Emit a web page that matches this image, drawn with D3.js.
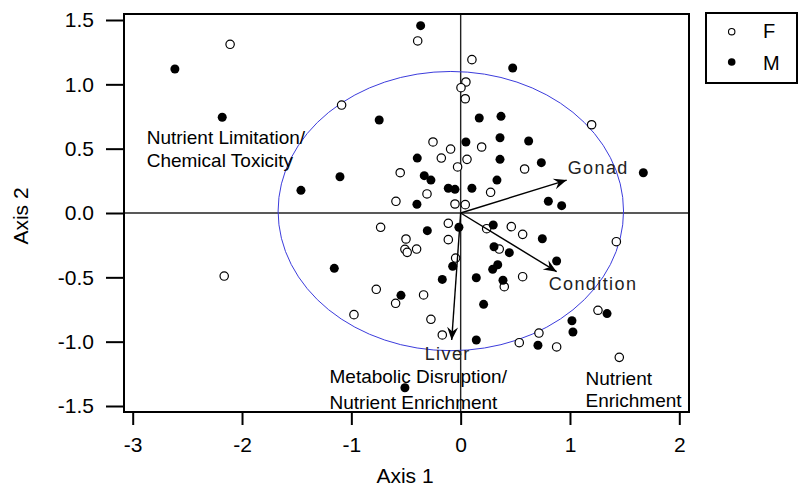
<!DOCTYPE html>
<html>
<head>
<meta charset="utf-8">
<script src="https://cdn.jsdelivr.net/npm/d3@7"></script>
<style>
  body { margin: 0; background: #fff; }
  svg { display: block; font-family: "Liberation Sans", Arial, sans-serif; }
</style>
</head>
<body>
<svg id="chart" width="799" height="489"></svg>
<script>
// ---- data ----
var femaleX = [-2.109, -1.089, -0.553, -0.592, -0.393, 0.103, 0.048, 0.003, 0.042, 1.198,
  -0.253, 0.192, -0.092, -0.177, 0.058, 0.585, -0.028, 0.274, -0.308, -0.052,
  0.042, -0.732, -0.500, -0.510, -0.489, -0.403, -2.163, -0.772, -0.595, -0.976,
  -0.113, -0.113, 0.238, 0.463, 0.567, 1.424, 0.353, -0.046, 0.399, 0.567,
  -0.339, -0.272, -0.168, 0.536, 0.716, 0.878, 1.256, 1.451];
var femaleY = [1.311, 0.839, 0.313, 0.091, 1.337, 1.192, 1.018, 0.974, 0.888, 0.686,
  0.552, 0.513, 0.497, 0.427, 0.417, 0.342, 0.358, 0.161, 0.148, 0.070,
  0.065, -0.111, -0.202, -0.282, -0.306, -0.280, -0.490, -0.593, -0.702, -0.790,
  -0.080, -0.207, -0.122, -0.106, -0.166, -0.223, -0.280, -0.350, -0.573, -0.495,
  -0.637, -0.826, -0.948, -1.008, -0.933, -1.041, -0.756, -1.122];

var maleX = [-2.614, -2.181, -0.745, -0.397, -1.104, -1.461, -0.400, -0.366, 0.476, 0.170,
  0.369, 0.360, 0.622, 0.048, 0.360, 0.738, 1.671, -0.333, -0.272, 0.332,
  -0.113, -0.052, 0.103, 0.802, 0.924, -1.156, -0.546, -0.510, -0.016, -0.305,
  0.298, 0.747, 0.305, 0.445, 0.878, -0.073, 0.339, 0.293, -0.168, 0.143,
  0.387, 0.210, 0.143, 0.707, 1.018, 1.027, 1.339];
var maleY = [1.119, 0.744, 0.723, 0.427, 0.282, 0.176, 0.068, 1.456, 1.127, 0.738,
  0.751, 0.585, 0.560, 0.552, 0.417, 0.391, 0.313, 0.290, 0.256, 0.256,
  0.192, 0.184, 0.192, 0.091, 0.057, -0.430, -0.640, -1.358, -0.111, -0.137,
  -0.093, -0.200, -0.262, -0.308, -0.373, -0.414, -0.402, -0.438, -0.516, -0.503,
  -0.523, -0.710, -0.987, -1.028, -0.837, -0.925, -0.782];

// biplot vectors
var vectorNames = ["Gonad", "Condition", "Liver"];
var vectorX = [0.970, 0.878, -0.082];
var vectorY = [0.256, -0.456, -0.987];

var xTicks = [-3, -2, -1, 0, 1, 2];
var yTicks = [-1.5, -1.0, -0.5, 0.0, 0.5, 1.0, 1.5];

// confidence ellipse (centre + radii in axis units)
var ellipseCentre = [-0.09, 0.015];
var ellipseRadii = [1.58, 1.085];

// ---- layout ----
var box = {left: 124, top: 14, right: 689, bottom: 412};

var svg = d3.select('#chart');

var x = d3.scaleLinear().domain([-3, 2]).range([132.7, 679.3]);
var y = d3.scaleLinear().domain([-1.5, 1.5]).range([406, 20]);

// zero lines
svg.append('line')
  .attr('x1', box.left).attr('x2', box.right)
  .attr('y1', y(0)).attr('y2', y(0))
  .attr('stroke', '#222').attr('stroke-width', 1.4);
svg.append('line')
  .attr('x1', x(0)).attr('x2', x(0))
  .attr('y1', box.top).attr('y2', box.bottom)
  .attr('stroke', '#222').attr('stroke-width', 1.4);

// ellipse
svg.append('ellipse')
  .attr('cx', x(ellipseCentre[0]))
  .attr('cy', y(ellipseCentre[1]))
  .attr('rx', x(ellipseRadii[0]) - x(0))
  .attr('ry', y(0) - y(ellipseRadii[1]))
  .attr('fill', 'none')
  .attr('stroke', '#3c3cdc')
  .attr('stroke-width', 1);

// points
var females = femaleX.map(function(v, i) { return {x: v, y: femaleY[i]}; });
var males = maleX.map(function(v, i) { return {x: v, y: maleY[i]}; });

svg.append('g').selectAll('circle')
  .data(females)
  .enter().append('circle')
  .attr('cx', function(d) { return x(d.x); })
  .attr('cy', function(d) { return y(d.y); })
  .attr('r', 4.2)
  .attr('fill', '#fff')
  .attr('stroke', '#000')
  .attr('stroke-width', 1.2);

svg.append('g').selectAll('circle')
  .data(males)
  .enter().append('circle')
  .attr('cx', function(d) { return x(d.x); })
  .attr('cy', function(d) { return y(d.y); })
  .attr('r', 4.5)
  .attr('fill', '#000');

// arrows
svg.append('defs').append('marker')
  .attr('id', 'head')
  .attr('markerUnits', 'userSpaceOnUse')
  .attr('markerWidth', 16).attr('markerHeight', 16)
  .attr('refX', 0).attr('refY', 0)
  .attr('viewBox', '-14 -8 16 16')
  .attr('orient', 'auto')
  .append('path')
  .attr('d', 'M0,0 L-13,-5.5 L-8.5,0 L-13,5.5 Z')
  .attr('fill', '#000');

var vectors = vectorNames.map(function(n, i) { return {name: n, x: vectorX[i], y: vectorY[i]}; });

svg.append('g').selectAll('line')
  .data(vectors)
  .enter().append('line')
  .attr('x1', x(0)).attr('y1', y(0))
  .attr('x2', function(d) { return x(d.x); })
  .attr('y2', function(d) { return y(d.y); })
  .attr('stroke', '#000')
  .attr('stroke-width', 1.4)
  .attr('marker-end', 'url(#head)');

// vector labels (offsets from arrow tips)
var labelOffset = {Gonad: [1, -6], Condition: [-8, 18], Liver: [-27, 20]};
svg.append('g').selectAll('text')
  .data(vectors)
  .enter().append('text')
  .attr('x', function(d) { return x(d.x) + labelOffset[d.name][0]; })
  .attr('y', function(d) { return y(d.y) + labelOffset[d.name][1]; })
  .attr('font-size', 18)
  .attr('letter-spacing', 1.4)
  .attr('fill', '#222')
  .text(function(d) { return d.name; });

// interpretation notes
var notes = [
  {x: 146.7, y: 144, t: 'Nutrient Limitation/'},
  {x: 146.7, y: 166.5, t: 'Chemical Toxicity'},
  {x: 329.5, y: 383, t: 'Metabolic Disruption/'},
  {x: 329.5, y: 408.5, t: 'Nutrient Enrichment'},
  {x: 585.5, y: 385, t: 'Nutrient'},
  {x: 585.5, y: 407, t: 'Enrichment'}
];
svg.append('g').selectAll('text')
  .data(notes)
  .enter().append('text')
  .attr('x', function(d) { return d.x; })
  .attr('y', function(d) { return d.y; })
  .attr('font-size', 19)
  .attr('fill', '#000')
  .text(function(d) { return d.t; });

// frame
svg.append('rect')
  .attr('x', box.left).attr('y', box.top)
  .attr('width', box.right - box.left)
  .attr('height', box.bottom - box.top)
  .attr('fill', 'none')
  .attr('stroke', '#000')
  .attr('stroke-width', 2);

// x axis
var xAxis = svg.append('g')
  .attr('transform', 'translate(0,' + box.bottom + ')')
  .call(d3.axisBottom(x).tickValues(xTicks).tickSize(13).tickPadding(12)
    .tickFormat(d3.format('d')));
xAxis.select('.domain').remove();
xAxis.selectAll('line').attr('stroke', '#000').attr('stroke-width', 2);
xAxis.selectAll('text')
  .attr('font-size', 21)
  .attr('font-family', '"Liberation Sans", Arial, sans-serif')
  .attr('fill', '#000')
  .text(function(d) { return d < 0 ? '-' + Math.abs(d) : d; });

// y axis
var yAxis = svg.append('g')
  .attr('transform', 'translate(' + box.left + ',0)')
  .call(d3.axisLeft(y).tickValues(yTicks).tickSize(18).tickPadding(12)
    .tickFormat(d3.format('.1f')));
yAxis.select('.domain').remove();
yAxis.selectAll('line').attr('stroke', '#000').attr('stroke-width', 2);
yAxis.selectAll('text')
  .attr('font-size', 21)
  .attr('font-family', '"Liberation Sans", Arial, sans-serif')
  .attr('fill', '#000')
  .text(function(d) { return d < 0 ? '-' + d3.format('.1f')(Math.abs(d)) : d3.format('.1f')(d); });

// axis titles
svg.append('text')
  .attr('x', 405).attr('y', 483)
  .attr('text-anchor', 'middle')
  .attr('font-size', 21)
  .text('Axis 1');
svg.append('text')
  .attr('transform', 'translate(28,216) rotate(-90)')
  .attr('text-anchor', 'middle')
  .attr('font-size', 21)
  .text('Axis 2');

// legend
var legend = svg.append('g');
legend.append('rect')
  .attr('x', 706).attr('y', 13)
  .attr('width', 91).attr('height', 70)
  .attr('fill', '#fff')
  .attr('stroke', '#000')
  .attr('stroke-width', 2);
legend.append('circle')
  .attr('cx', 731.7).attr('cy', 31.7).attr('r', 3.2)
  .attr('fill', '#fff').attr('stroke', '#000').attr('stroke-width', 1.1);
legend.append('circle')
  .attr('cx', 731.7).attr('cy', 62).attr('r', 3.8)
  .attr('fill', '#000');
legend.append('text')
  .attr('x', 763).attr('y', 38).attr('font-size', 20).text('F');
legend.append('text')
  .attr('x', 763).attr('y', 69.5).attr('font-size', 20).text('M');
</script>
</body>
</html>
